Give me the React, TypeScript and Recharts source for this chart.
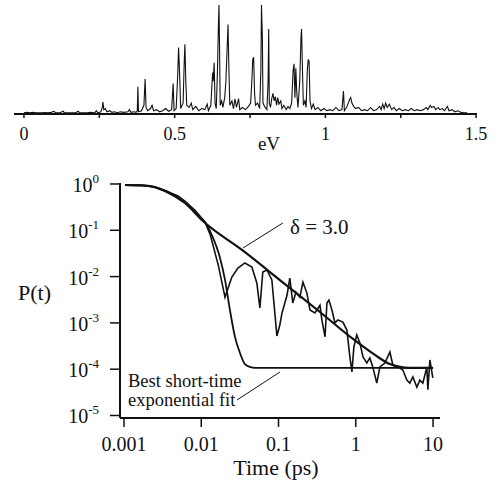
import { LineChart, Line, XAxis, YAxis, ReferenceLine } from "recharts";

const FONT = "'Liberation Serif', Tinos, 'Times New Roman', Times, 'DejaVu Serif', serif";
const INK = "#111";

// ---- top panel: spectrum (eV, relative intensity) ----
const specEv = [
  0, 0.01, 0.02, 0.03, 0.04, 0.05, 0.06, 0.07, 0.08, 0.09, 0.1, 0.105, 0.12, 0.13, 0.135, 0.15, 0.17, 0.18, 0.185,
  0.2, 0.21, 0.22, 0.235, 0.24, 0.245, 0.255, 0.26, 0.262, 0.265, 0.27, 0.275, 0.285, 0.292, 0.3, 0.31, 0.32, 0.33,
  0.345, 0.35, 0.355, 0.365, 0.372, 0.376, 0.378, 0.38, 0.39, 0.398, 0.402, 0.405, 0.41, 0.42, 0.425, 0.43, 0.44,
  0.45, 0.46, 0.47, 0.48, 0.49, 0.495, 0.498, 0.505, 0.51, 0.513, 0.516, 0.52, 0.528, 0.532, 0.534, 0.537, 0.54,
  0.548, 0.555, 0.56, 0.57, 0.58, 0.59, 0.6, 0.608, 0.612, 0.62, 0.626, 0.628, 0.631, 0.634, 0.638, 0.642, 0.645,
  0.647, 0.649, 0.651, 0.656, 0.66, 0.666, 0.67, 0.674, 0.677, 0.68, 0.683, 0.69, 0.695, 0.7, 0.705, 0.712, 0.716,
  0.725, 0.735, 0.745, 0.752, 0.756, 0.759, 0.762, 0.765, 0.768, 0.775, 0.782, 0.786, 0.788, 0.791, 0.793, 0.8,
  0.806, 0.81, 0.812, 0.814, 0.818, 0.822, 0.826, 0.83, 0.834, 0.838, 0.842, 0.846, 0.852, 0.856, 0.862, 0.87,
  0.876, 0.882, 0.888, 0.893, 0.896, 0.899, 0.902, 0.905, 0.909, 0.915, 0.919, 0.921, 0.924, 0.927, 0.932, 0.936,
  0.94, 0.943, 0.946, 0.949, 0.954, 0.96, 0.966, 0.975, 0.985, 0.995, 1.005, 1.015, 1.025, 1.035, 1.045, 1.055,
  1.06, 1.063, 1.07, 1.076, 1.08, 1.084, 1.088, 1.094, 1.1, 1.11, 1.12, 1.13, 1.14, 1.15, 1.16, 1.17, 1.18, 1.185,
  1.19, 1.195, 1.2, 1.205, 1.212, 1.22, 1.228, 1.235, 1.245, 1.255, 1.265, 1.275, 1.285, 1.295, 1.305, 1.315, 1.325,
  1.335, 1.34, 1.348, 1.352, 1.36, 1.366, 1.374, 1.38, 1.388, 1.395, 1.405, 1.41, 1.42, 1.43, 1.44, 1.45, 1.46, 1.47,
];
const specAmp = [
  1, 1.5, 1, 1.5, 1, 1.2, 1, 1.3, 1, 1.5, 2.5, 1, 1.2, 2.5, 1, 1.2, 1, 2.5, 1,
  1.2, 1, 1.5, 1, 3, 1, 2, 6, 11, 4, 5, 2, 3, 1.5, 2, 1.2, 2, 1.5,
  2, 4, 1.5, 2, 1.5, 3, 25, 2, 3, 8, 32, 6, 3, 5, 8, 3, 4,
  2, 3, 5, 2.5, 4, 28, 3, 5, 35, 61, 40, 5, 10, 50, 64, 30, 8,
  6, 10, 4, 7, 3, 5, 4, 9, 3, 8, 38, 30, 47, 10, 5, 40, 80,
  100, 60, 8, 12, 6, 15, 30, 60, 82, 40, 8, 12, 5, 14, 6, 14, 4,
  6, 4, 7, 10, 30, 50, 52, 20, 8, 10, 5, 40, 100, 70, 10, 6,
  4, 30, 78, 10, 6, 14, 19, 12, 16, 8, 15, 9, 12, 5, 8, 4,
  7, 5, 10, 40, 46, 15, 42, 20, 6, 30, 70, 78, 40, 8, 12, 6,
  40, 50, 48, 12, 5, 9, 4, 6, 3, 5, 3, 4, 3, 6, 3, 4,
  21, 3, 6, 10, 13, 15, 10, 7, 5, 6, 3, 4, 3, 6, 3, 4, 7, 4,
  9, 5, 10, 6, 9, 4, 6, 3, 5, 3, 4, 3, 5, 3, 4, 3, 4,
  6, 4, 8, 6, 7, 4, 6, 4, 5, 3, 7, 3, 4, 2, 3, 1.5, 1, 1,
];
const evTicks = [0, 0.25, 0.5, 0.75, 1, 1.25, 1.5];
const evLabels = ["0", "", "0.5", "", "1", "", "1.5"];

// ---- bottom panel: survival probability P(t) vs time (ps) ----
const timeTicks = [0.001, 0.01, 0.1, 1, 10];
const timeLabels = ["0.001", "0.01", "0.1", "1", "10"];
const pTicks = [1e-5, 1e-4, 1e-3, 1e-2, 1e-1, 1];
const pExps = ["-5", "-4", "-3", "-2", "-1", "0"];

// simulated P(t)
const dataT = [
  0.00103, 0.0016, 0.0025, 0.0031, 0.0036, 0.0042, 0.005, 0.0062, 0.0083, 0.0105, 0.0112, 0.0131, 0.0166, 0.0203,
  0.0249, 0.0298, 0.0367, 0.0452, 0.0524, 0.0574, 0.0626, 0.0708, 0.082, 0.0953, 0.104, 0.111, 0.129, 0.14, 0.153,
  0.168, 0.189, 0.207, 0.233, 0.255, 0.296, 0.344, 0.364, 0.4, 0.423, 0.449, 0.491, 0.537, 0.586, 0.681, 0.767,
  0.839, 0.891, 0.944, 1.03, 1.13, 1.24, 1.39, 1.52, 1.66, 1.87, 2.05, 2.38, 2.76, 3.02, 3.51, 4.06, 4.58, 5.01,
  5.48, 6.17, 6.75, 7.38, 8.32, 8.57, 9.1, 9.93,
];
const dataP = [
  0.95, 0.95, 0.86, 0.75, 0.7, 0.62, 0.55, 0.42, 0.27, 0.17, 0.15, 0.079, 0.0177, 0.0036,
  0.0098, 0.0153, 0.0197, 0.0161, 0.0073, 0.0021, 0.0126, 0.0139, 0.0085, 0.00052, 0.0009, 0.00164, 0.004, 0.0093, 0.0027,
  0.0046, 0.0036, 0.0076, 0.0044, 0.0019, 0.00164, 0.0024, 0.00116, 0.0005, 0.0027, 0.0031, 0.0019, 0.001, 0.00116, 0.00104, 0.0007,
  0.000183, 0.000087, 0.0003, 0.00055, 0.00037, 0.000183, 0.000136, 0.000175, 0.000112, 0.00005, 0.000112, 0.000136, 0.000235, 0.000123, 0.000112, 0.000096, 0.000058, 0.00005,
  0.000068, 0.000041, 0.000058, 0.00005, 0.000112, 0.000036, 0.000158, 0.000065,
];

// delta = 3.0 fit
const fitT = [0.00103, 0.00204, 0.00339, 0.00615, 0.0105, 0.0337, 0.121, 0.344, 0.92, 1.77, 2.76, 3.72, 5.0, 10];
const fitP = [0.95, 0.91, 0.71, 0.39, 0.159, 0.0376, 0.0069, 0.00172, 0.00045, 0.000203, 0.000129, 0.000112, 0.000107, 0.000107];

// best short-time exponential fit
const expT = [0.00103, 0.00204, 0.00339, 0.00615, 0.0105, 0.0112, 0.0137, 0.0175, 0.0203, 0.0235, 0.0273, 0.0317, 0.0367, 0.0427, 0.0495, 10];
const expP = [0.95, 0.91, 0.71, 0.39, 0.166, 0.15, 0.079, 0.0252, 0.0085, 0.0019, 0.0005, 0.000224, 0.000129, 0.000112, 0.000107, 0.000107];

const spectrum = specEv.map((ev, i) => ({ ev, amp: specAmp[i] }));
const simData = dataT.map((t, i) => ({ t, p: dataP[i] }));
const fitData = fitT.map((t, i) => ({ t, p: fitP[i] }));
const expData = expT.map((t, i) => ({ t, p: expP[i] }));

const PowerTick = ({ x, y, payload }: any) => {
  const i = pTicks.indexOf(payload.value);
  return (
    <text x={x} y={y} dy={8} textAnchor="end" style={{ fontFamily: FONT }} fontSize={20} fill={INK}>
      10
      <tspan dy={-9} fontSize={13}>
        {pExps[i]}
      </tspan>
    </text>
  );
};

const textStyle = (left: number, top: number, size: number): React.CSSProperties => ({
  position: "absolute",
  left,
  top,
  fontFamily: FONT,
  fontSize: size,
  lineHeight: 1,
  color: INK,
  whiteSpace: "nowrap",
});

export default function App() {
  return (
    <div style={{ position: "absolute", left: 0, top: 0, width: 497, height: 483, background: "#fff", overflow: "hidden", fontFamily: FONT }}>
      {/* spectrum */}
      <div style={{ position: "absolute", left: 0, top: 0 }}>
        <LineChart width={497} height={160} data={spectrum} margin={{ top: 5, right: 20, bottom: 0, left: 14 }}>
          <XAxis
            dataKey="ev"
            type="number"
            domain={[-0.033, 1.503]}
            allowDataOverflow
            ticks={evTicks}
            tickFormatter={(v: number) => evLabels[evTicks.indexOf(v)]}
            height={46}
            tickSize={4}
            tickMargin={9}
            axisLine={{ stroke: INK, strokeWidth: 2 }}
            tickLine={{ stroke: INK, strokeWidth: 1.5 }}
            tick={{ style: { fontFamily: FONT }, fontSize: 18, fill: INK }}
          />
          <YAxis hide domain={[0, 100]} />
          <Line type="linear" dataKey="amp" stroke={INK} strokeWidth={1.1} dot={false} isAnimationActive={false} />
        </LineChart>
      </div>
      <div style={{ ...textStyle(269, 134, 19), transform: "translateX(-50%)" }}>eV</div>

      {/* P(t) */}
      <div style={{ position: "absolute", left: 0, top: 0 }}>
        <LineChart width={497} height={483} margin={{ top: 183, right: 57, bottom: 0, left: 0 }}>
          <XAxis
            dataKey="t"
            type="number"
            scale="log"
            domain={[0.000888, 12.3]}
            allowDataOverflow
            ticks={timeTicks}
            tickFormatter={(v: number) => timeLabels[timeTicks.indexOf(v)]}
            height={65}
            tickSize={9}
            tickMargin={10}
            axisLine={{ stroke: INK, strokeWidth: 2 }}
            tickLine={{ stroke: INK, strokeWidth: 1.5 }}
            tick={{ style: { fontFamily: FONT }, fontSize: 20, fill: INK }}
          />
          <YAxis
            dataKey="p"
            type="number"
            scale="log"
            domain={[8.83e-6, 1.05]}
            allowDataOverflow
            ticks={pTicks}
            width={120}
            tickSize={10}
            tickMargin={11}
            axisLine={{ stroke: INK, strokeWidth: 2 }}
            tickLine={{ stroke: INK, strokeWidth: 1.5 }}
            tick={<PowerTick />}
          />
          <Line data={expData} type="monotone" dataKey="p" stroke={INK} strokeWidth={1.8} dot={false} isAnimationActive={false} />
          <Line data={simData} type="linear" dataKey="p" stroke={INK} strokeWidth={1.6} dot={false} isAnimationActive={false} />
          <Line data={fitData} type="monotone" dataKey="p" stroke={INK} strokeWidth={2.2} dot={false} isAnimationActive={false} />
          <ReferenceLine segment={[{ x: 0.114, y: 0.144 }, { x: 0.0347, y: 0.0415 }]} stroke={INK} strokeWidth={1} />
          <ReferenceLine segment={[{ x: 0.029, y: 2.16e-5 }, { x: 0.1045, y: 8.7e-5 }]} stroke={INK} strokeWidth={1} />
        </LineChart>
      </div>
      <div style={textStyle(18, 282, 22)}>P(t)</div>
      <div style={{ ...textStyle(276, 457, 22), transform: "translateX(-50%)" }}>Time (ps)</div>
      <div style={textStyle(290, 217, 21)}>δ = 3.0</div>
      <div style={{ ...textStyle(128, 372, 18.5), lineHeight: "18.5px" }}>
        Best short-time
        <br />
        exponential fit
      </div>
    </div>
  );
}
